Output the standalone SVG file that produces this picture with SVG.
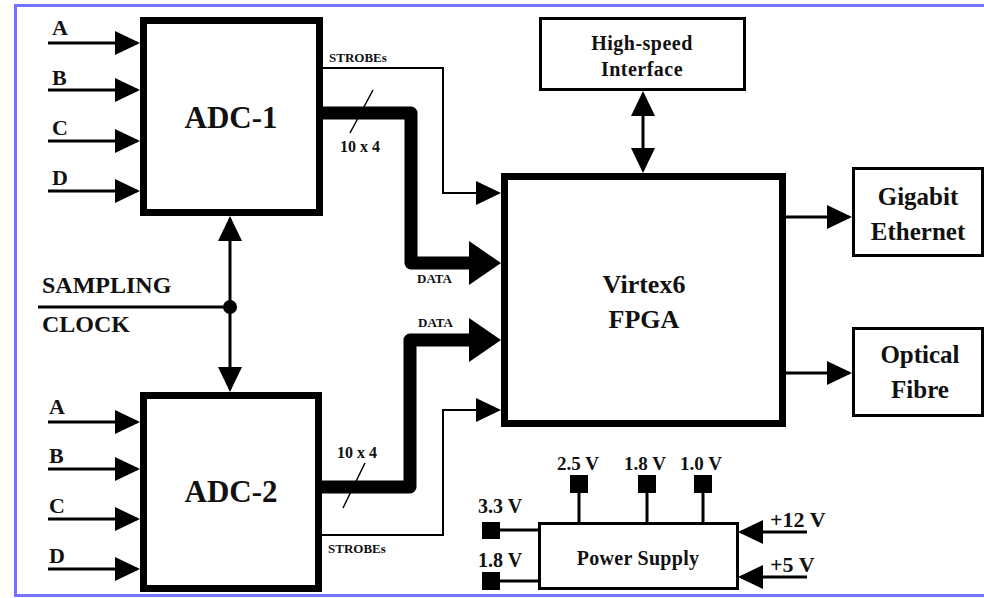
<svg xmlns="http://www.w3.org/2000/svg" width="984" height="598" viewBox="0 0 984 598" font-family="Liberation Serif, Times New Roman, serif">
<defs>
<style>
text{font-family:'Liberation Serif','Times New Roman',serif}
.t{font-weight:bold;fill:#111}
.m{text-anchor:middle}
.box{fill:#fff;stroke:#000}
.thick{stroke-width:7}
.thin{stroke-width:3}
.ln{fill:none;stroke:#000;stroke-width:3}
.sl{fill:none;stroke:#000;stroke-width:2}
.bus{fill:none;stroke:#000;stroke-width:13;stroke-linejoin:round}
.pin{fill:#000}
</style>
<marker id="a" markerUnits="userSpaceOnUse" markerWidth="25" markerHeight="24" refX="22" refY="12" orient="auto-start-reverse" viewBox="0 0 25 24">
<path d="M0,0 L25,12 L0,24 Z" fill="#000"/>
</marker>
<marker id="b" markerUnits="userSpaceOnUse" markerWidth="32" markerHeight="44" refX="0" refY="22" orient="auto" viewBox="0 0 32 44">
<path d="M0,0 L32,22 L0,44 Z" fill="#000"/>
</marker>
</defs>
<rect x="0" y="0" width="984" height="598" fill="#fff"/>
<rect x="15.5" y="5.5" width="990" height="590" fill="none" stroke="#7373ff" stroke-width="3"/>

<g id="connectors">
<line class="ln" x1="48" y1="43" x2="137" y2="43" marker-end="url(#a)"/>
<line class="ln" x1="48" y1="90" x2="137" y2="90" marker-end="url(#a)"/>
<line class="ln" x1="48" y1="141" x2="137" y2="141" marker-end="url(#a)"/>
<line class="ln" x1="48" y1="191" x2="137" y2="191" marker-end="url(#a)"/>
<line class="ln" x1="48" y1="422" x2="137" y2="422" marker-end="url(#a)"/>
<line class="ln" x1="48" y1="469" x2="137" y2="469" marker-end="url(#a)"/>
<line class="ln" x1="48" y1="519" x2="137" y2="519" marker-end="url(#a)"/>
<line class="ln" x1="48" y1="569" x2="137" y2="569" marker-end="url(#a)"/>
<line class="ln" x1="38" y1="307" x2="230" y2="307"/>
<line class="ln" x1="230" y1="219" x2="230" y2="389" marker-start="url(#a)" marker-end="url(#a)"/>
<circle cx="230" cy="307" r="7" fill="#000"/>
<polyline class="sl" points="323,68 443,68 443,193 498,193" marker-end="url(#a)"/>
<polyline class="sl" points="321,535 443,535 443,410 498,410" marker-end="url(#a)"/>
<path class="bus" d="M323,113 L411,113 L411,263 L469,263" marker-end="url(#b)"/>
<path class="bus" d="M321,487 L410,487 L410,340 L469,340" marker-end="url(#b)"/>
<line x1="373" y1="90" x2="350" y2="133" stroke="#000" stroke-width="1.5"/>
<line x1="365" y1="463" x2="343" y2="508" stroke="#000" stroke-width="1.5"/>
<line class="ln" x1="643" y1="94" x2="643" y2="170" marker-start="url(#a)" marker-end="url(#a)"/>
<line class="ln" x1="786" y1="217" x2="849" y2="217" marker-end="url(#a)"/>
<line class="ln" x1="786" y1="373" x2="849" y2="373" marker-end="url(#a)"/>
<line class="ln" x1="579" y1="493" x2="579" y2="523"/>
<line class="ln" x1="647" y1="493" x2="647" y2="523"/>
<line class="ln" x1="703" y1="493" x2="703" y2="523"/>
<line class="ln" x1="500" y1="530" x2="539" y2="530"/>
<line class="ln" x1="500" y1="581" x2="539" y2="581"/>
<line class="ln" x1="807" y1="532" x2="741" y2="532" marker-end="url(#a)"/>
<line class="ln" x1="807" y1="577" x2="741" y2="577" marker-end="url(#a)"/>
</g>

<g id="labels">
<text class="t" x="52" y="35" font-size="22">A</text>
<text class="t" x="52" y="85" font-size="22">B</text>
<text class="t" x="52" y="135" font-size="22">C</text>
<text class="t" x="52" y="185" font-size="22">D</text>
<text class="t" x="49" y="414" font-size="22">A</text>
<text class="t" x="49" y="463" font-size="22">B</text>
<text class="t" x="49" y="513" font-size="22">C</text>
<text class="t" x="49" y="563" font-size="22">D</text>
<text class="t" x="42" y="293" font-size="24">SAMPLING</text>
<text class="t" x="42" y="332" font-size="24">CLOCK</text>
<text class="t" x="329" y="62" font-size="13">STROBEs</text>
<text class="t" x="328" y="553" font-size="13">STROBEs</text>
<text class="t" x="340" y="152" font-size="16">10 x 4</text>
<text class="t" x="337" y="458" font-size="16">10 x 4</text>
<text class="t" x="417" y="283" font-size="13">DATA</text>
<text class="t" x="418" y="327" font-size="13">DATA</text>
</g>

<g id="adc1">
<rect class="box thick" x="143.5" y="20.5" width="176" height="192"/>
<text class="t m" x="231" y="128" font-size="31">ADC-1</text>
</g>
<g id="adc2">
<rect class="box thick" x="143.5" y="395.5" width="175" height="193"/>
<text class="t m" x="231" y="502" font-size="31">ADC-2</text>
</g>
<g id="fpga">
<rect class="box thick" x="504.5" y="176.5" width="278" height="247"/>
<text class="t m" x="644" y="293" font-size="26">Virtex6</text>
<text class="t m" x="644" y="328" font-size="26">FPGA</text>
</g>
<g id="highspeed">
<rect class="box thin" x="540.5" y="18.5" width="204" height="71"/>
<text class="t m" x="642" y="50" font-size="20" letter-spacing="0.5">High-speed</text>
<text class="t m" x="642" y="76" font-size="20" letter-spacing="0.5">Interface</text>
</g>
<g id="gigabit">
<rect class="box thin" x="853.5" y="168.5" width="129" height="87"/>
<text class="t m" x="918" y="205" font-size="25">Gigabit</text>
<text class="t m" x="918" y="240" font-size="25">Ethernet</text>
</g>
<g id="optical">
<rect class="box thin" x="853.5" y="328.5" width="129" height="87"/>
<text class="t m" x="920" y="363" font-size="25">Optical</text>
<text class="t m" x="920" y="398" font-size="25">Fibre</text>
</g>
<g id="power">
<rect class="box thin" x="539.5" y="523.5" width="198" height="65"/>
<text class="t m" x="638" y="565" font-size="20" letter-spacing="0.3">Power Supply</text>
<rect class="pin" x="570" y="475" width="18" height="18"/>
<rect class="pin" x="638" y="475" width="18" height="18"/>
<rect class="pin" x="694" y="475" width="18" height="18"/>
<rect class="pin" x="482" y="522" width="18" height="17"/>
<rect class="pin" x="482" y="572" width="18" height="18"/>
<text class="t m" x="578" y="470" font-size="19">2.5 V</text>
<text class="t m" x="645" y="470" font-size="19">1.8 V</text>
<text class="t m" x="701" y="470" font-size="19">1.0 V</text>
<text class="t" x="478" y="513" font-size="20">3.3 V</text>
<text class="t" x="478" y="567" font-size="20">1.8 V</text>
<text class="t" x="770" y="527" font-size="22">+12 V</text>
<text class="t" x="770" y="572" font-size="22">+5 V</text>
</g>
</svg>
